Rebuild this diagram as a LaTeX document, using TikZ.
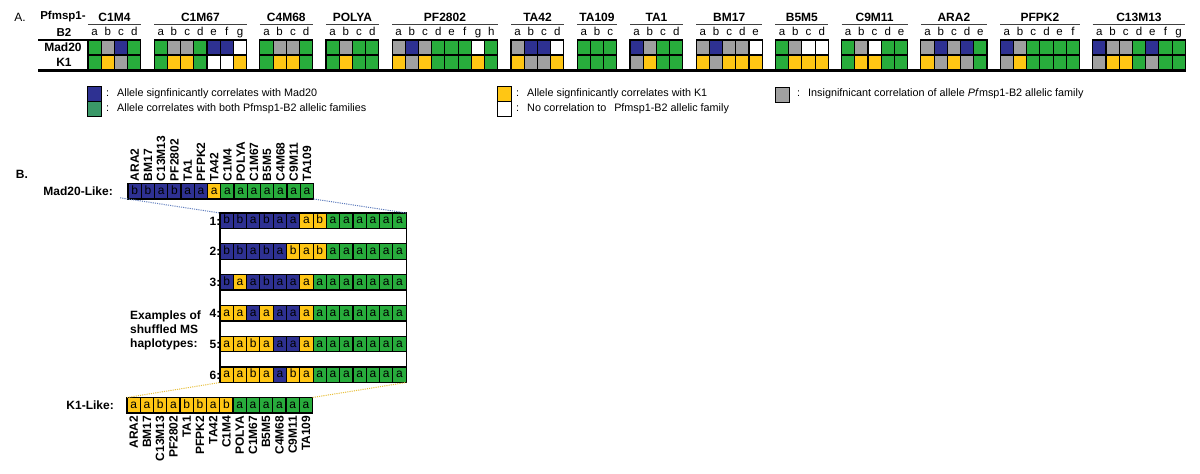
\documentclass[tikz,border=0pt]{standalone}
\usepackage{fontspec}
\setmainfont{Liberation Sans}
\definecolor{mB}{RGB}{46,49,146}
\definecolor{mG}{RGB}{40,172,60}
\definecolor{mY}{RGB}{255,198,20}
\definecolor{mR}{RGB}{160,160,160}
\definecolor{mW}{RGB}{255,255,255}
\definecolor{lG}{RGB}{58,152,104}
\definecolor{dotB}{RGB}{95,125,190}
\definecolor{dotY}{RGB}{232,192,60}
\newcommand\lett[1]{\ifcase#1\or a\or b\or c\or d\or e\or f\or g\or h\fi}
\begin{document}
\begin{tikzpicture}[x=1pt,y=-1pt,
  cell/.style={draw=black,line width=1.1pt,minimum width=13.22pt,minimum height=15pt,inner sep=0pt,outer sep=0pt,anchor=north west},
  bcell/.style={draw=black,line width=1.1pt,minimum width=13.3pt,minimum height=15.5pt,inner sep=0pt,outer sep=0pt,anchor=north west,font=\fontsize{12}{12}\selectfont,text height=8.7pt,text depth=2.5pt},
  lsq/.style={draw=black,line width=1pt,minimum width=14pt,minimum height=15pt,inner sep=0pt,outer sep=0pt,anchor=north west},
  hd/.style={font=\fontsize{12}{12}\selectfont\bfseries,inner sep=0pt},
  lt/.style={font=\fontsize{11.5}{12}\selectfont,inner sep=0pt,text height=8.5pt,text depth=2.5pt},
  lg/.style={font=\fontsize{10.8}{12}\selectfont,inner sep=0pt,anchor=west},
  bl/.style={font=\fontsize{12}{14}\selectfont\bfseries,inner sep=0pt},
  dotl/.style={line width=1pt,dash pattern=on 1.1pt off 1.1pt}]
\useasboundingbox[fill=white] (0,0) rectangle (1200,474);

% ---------------- Part A ----------------
\node[font=\fontsize{12}{12}\selectfont,inner sep=0pt] (labA) at (20,17) {A.};
\node[hd,font=\fontsize{11.5}{12}\selectfont\bfseries] (pf) at (63,17) {Pfmsp1-};
\node[hd,font=\fontsize{11.5}{12}\selectfont\bfseries] (b2) at (64,32) {B2};
\node[hd] (mad) at (63,47.5) {Mad20};
\node[hd] (k1) at (64,62.5) {K1};
\draw[line width=1.3pt] (38,40) -- (88,40);

\foreach \n/\s/\N/\m/\k in {
  C1M4/0/4/{G,R,B,G}/{G,Y,R,G},
  C1M67/5/7/{G,R,R,G,B,B,W}/{G,Y,Y,G,W,W,Y},
  C4M68/13/4/{G,R,R,G}/{G,Y,Y,G},
  POLYA/18/4/{G,R,G,G}/{G,Y,G,G},
  PF2802/23/8/{R,B,R,G,G,G,W,G}/{Y,R,Y,G,G,G,Y,G},
  TA42/32/4/{R,B,B,W}/{Y,R,R,Y},
  TA109/37/3/{G,G,G}/{G,G,G},
  TA1/41/4/{B,R,G,G}/{R,Y,G,G},
  BM17/46/5/{R,B,R,R,W}/{Y,R,Y,Y,Y},
  B5M5/52/4/{G,R,W,W}/{G,Y,Y,Y},
  C9M11/57/5/{G,R,W,G,G}/{G,Y,Y,G,G},
  ARA2/63/5/{R,B,R,B,G}/{Y,R,Y,R,G},
  PFPK2/69/6/{B,R,G,G,G,G}/{R,Y,G,G,G,G},
  C13M13/76/7/{B,R,R,G,B,G,G}/{R,Y,Y,G,R,G,G}}
{
  \node[hd] (g\n) at ({88+13.22*(\s+\N/2)},17) {\n};
  \draw[line width=1.2pt,black!75] ({88+13.22*\s},24.5) -- ({88+13.22*(\s+\N)},24.5);
  \foreach \c [count=\i] in \m {
    \node[cell,fill=m\c] (m\n-\i) at ({88+13.22*(\s+\i-1)},40) {};
    \node[lt] (l\n-\i) at ({88+13.22*(\s+\i-0.5)},32) {\lett{\i}};
  }
  \foreach \c [count=\i] in \k {
    \node[cell,fill=m\c] (k\n-\i) at ({88+13.22*(\s+\i-1)},55) {};
  }
}
\draw[line width=2.4pt] (38,70.5) -- (1186,70.5);

% legend
\node[lsq,fill=mB] (lb) at (87,86) {};
\node[lsq,fill=lG] (lgg) at (87,101) {};
\node[lg] (lbc) at (106,94) {:};
\node[lg] (lbt) at (117,94) {Allele signfinicantly correlates with Mad20};
\node[lg] (lgc) at (106,108.5) {:};
\node[lg] (lgt) at (117,108.5) {Allele correlates with both Pfmsp1-B2 allelic families};
\node[lsq,fill=mY] (ly) at (497,86) {};
\node[lsq,fill=white] (lw) at (497,101) {};
\node[lg] (lyc) at (516,94) {:};
\node[lg] (lyt) at (527,94) {Allele signfinicantly correlates with K1};
\node[lg] (lwc) at (516,108.5) {:};
\node[lg] (lwt) at (527,108.5) {No correlation to\hspace{0.45em} Pfmsp1-B2 allelic family};
\node[lsq,fill=mR] (lr) at (775,87) {};
\node[lg] (lrc) at (797,94) {:};
\node[lg] (lrt) at (808,94) {Insignifnicant correlation of allele \textit{Pf}msp1-B2 allelic family};

% ---------------- Part B ----------------
\node[bl] (labB) at (22,174) {B.};
\node[bl,anchor=east] (madl) at (113,191) {Mad20-Like:};
\node[bl,anchor=east] (k1l) at (114,405) {K1-Like:};
\node[bl,anchor=west,align=left] (ex) at (130,330) {Examples of\\shuffled MS\\haplotypes:};

\foreach \c/\t [count=\i] in {B/b,B/b,B/a,B/b,B/a,B/a,Y/a,G/a,G/a,G/a,G/a,G/a,G/a,G/a}
  \node[bcell,fill=m\c] (md\i) at ({128+13.25*(\i-1)},183.5) {\t};
\foreach \c/\t [count=\i] in {Y/a,Y/a,Y/b,Y/a,Y/b,Y/b,Y/a,Y/b,G/a,G/a,G/a,G/a,G/a,G/a}
  \node[bcell,fill=m\c] (kk\i) at ({127+13.25*(\i-1)},397.5) {\t};
\draw[line width=1.4pt] (md1.north west) rectangle (md14.south east);
\draw[line width=1.4pt] (kk1.north west) rectangle (kk14.south east);

\foreach \lab [count=\i] in {ARA2,BM17,C13M13,PF2802,TA1,PFPK2,TA42,C1M4,POLYA,C1M67,B5M5,C4M68,C9M11,TA109}{
  \node[bl,rotate=90,anchor=west] (tl\i) at ({128+13.25*(\i-0.5)},181.5) {\lab};
  \node[bl,rotate=90,anchor=east] (bl\i) at ({127+13.25*(\i-0.5)},415.5) {\lab};
}

\foreach \r/\y/\L in {
  1/213/{B/b,B/b,B/a,B/b,B/a,B/a,Y/a,Y/b,G/a,G/a,G/a,G/a,G/a,G/a},
  2/243.8/{B/b,B/b,B/a,B/b,B/a,Y/b,Y/a,Y/b,G/a,G/a,G/a,G/a,G/a,G/a},
  3/274.6/{B/b,Y/a,B/a,B/b,B/a,B/a,Y/a,G/a,G/a,G/a,G/a,G/a,G/a,G/a},
  4/305.4/{Y/a,Y/a,B/a,Y/a,B/a,B/a,Y/a,G/a,G/a,G/a,G/a,G/a,G/a,G/a},
  5/336.2/{Y/a,Y/a,Y/b,Y/a,B/a,B/a,Y/a,G/a,G/a,G/a,G/a,G/a,G/a,G/a},
  6/367/{Y/a,Y/a,Y/b,Y/a,B/a,Y/b,Y/a,G/a,G/a,G/a,G/a,G/a,G/a,G/a}}
{
  \foreach \c/\t [count=\i] in \L
    \node[bcell,fill=m\c] (r\r-\i) at ({220+13.3*(\i-1)},\y) {\t};
  \node[bl,anchor=east] (n\r) at (220.5,{\y+8}) {\r:};
  \draw[line width=1.3pt] (r\r-1.north west) rectangle (r\r-14.south east);
}
\draw[line width=1.3pt] (r1-1.north west) rectangle (r6-14.south east);

% dotted connectors
\draw[dotl,dotB,shorten <=-8pt] (md1.south west) -- (r1-1.north west);
\draw[dotl,dotB] (md14.south east) -- (r1-14.north east);
\draw[dotl,dotY] (kk1.north west) -- (r6-1.south west);
\draw[dotl,dotY] (kk14.north east) -- (r6-14.south east);
\end{tikzpicture}
\end{document}
